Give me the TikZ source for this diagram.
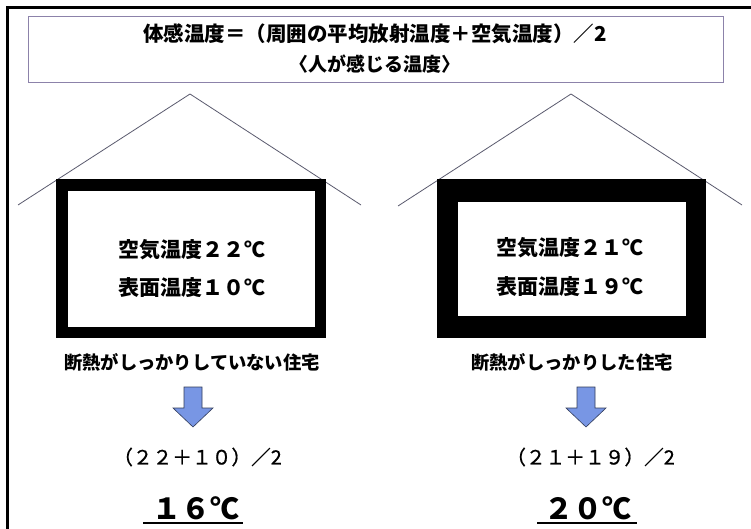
\documentclass[tikz,border=0pt]{standalone}
\usepackage{fontspec}
\newfontfamily\jp{Noto Sans CJK JP}
\newfontfamily\jpfb[FakeBold=0.8]{Noto Sans CJK JP}
\definecolor{framegray}{RGB}{140,130,170}
\definecolor{roofgray}{RGB}{90,90,110}
\definecolor{arrowblue}{RGB}{120,150,228}
\definecolor{arrowedge}{RGB}{50,60,90}
\tikzset{
  txt/.style={inner sep=0pt, font=\jp},
  wall/.style={fill=black, inner sep=0pt},
  room/.style={fill=white, inner sep=0pt},
  roof/.style={draw=roofgray, line width=0.8pt},
  blockarrow/.style={fill=arrowblue, draw=arrowedge, line width=0.6pt, line join=miter},
  uline/.style={line width=1.7pt}
}
\begin{document}
\begin{tikzpicture}[x=1pt,y=-1pt]
\useasboundingbox (0,0) rectangle (751,529);
\fill[white] (0,0) rectangle (751,529);
% outer frame (left and top only)
\draw[line width=3pt] (7.5,529) -- (7.5,7.5) -- (751,7.5);
% title box
\node (title) [draw=framegray, line width=0.9pt, minimum width=695, minimum height=66, inner sep=0pt] at (375.5,49) {};
\node (t1) [txt, font=\jp\bfseries\fontsize{20.5}{24}\selectfont] at (375,34) {体感温度＝（周囲の平均放射温度＋空気温度）／2};
\node (t2) [txt, font=\jp\bfseries\fontsize{19}{22}\selectfont] at (375,64.5) {〈人が感じる温度〉};
% left house
\coordinate (lr1) at (18,205);
\coordinate (lapex) at (190,94);
\coordinate (lr2) at (361,205);
\draw[roof] (lr1) -- (lapex) -- (lr2);
\node (lwall) [wall, minimum width=270, minimum height=159] at (191,258.5) {};
\node (lroom) [room, minimum width=247, minimum height=136] at (191.5,259) {};
\node (la) [txt, font=\jp\bfseries\fontsize{21}{24}\selectfont] at (192,250) {空気温度２２℃};
\node (ls) [txt, font=\jp\bfseries\fontsize{21}{24}\selectfont] at (192,288) {表面温度１０℃};
\node (lcap) [txt, font=\jp\bfseries\fontsize{18.3}{22}\selectfont] at (192,362) {断熱がしっかりしていない住宅};
\draw[blockarrow] (184,387) -- (202,387) -- (202,408) -- (213,408) -- (193,427) -- (173,408) -- (184,408) -- cycle;
\node (lf) [txt, font=\jpfb\fontsize{19.7}{22}\selectfont] at (197.5,457) {（２２＋１０）／2};
\node (lt) [txt, font=\jp\bfseries\fontsize{29}{32}\selectfont] at (196,508) {１６℃};
\coordinate (lu1) at (143,523);
\coordinate (lu2) at (243,523);
\draw[uline] (lu1) -- (lu2);
% right house
\coordinate (rr1) at (398,206);
\coordinate (rapex) at (571,94);
\coordinate (rr2) at (742,205);
\draw[roof] (rr1) -- (rapex) -- (rr2);
\node (rwall) [wall, minimum width=269, minimum height=159] at (571.5,258.5) {};
\node (rroom) [room, minimum width=228, minimum height=114] at (572,259) {};
\node (ra) [txt, font=\jp\bfseries\fontsize{21}{24}\selectfont] at (570,248) {空気温度２１℃};
\node (rs) [txt, font=\jp\bfseries\fontsize{21}{24}\selectfont] at (570,287) {表面温度１９℃};
\node (rcap) [txt, font=\jp\bfseries\fontsize{18.3}{22}\selectfont] at (572,362) {断熱がしっかりした住宅};
\draw[blockarrow] (577,387) -- (595,387) -- (595,408) -- (606,408) -- (586,427) -- (566,408) -- (577,408) -- cycle;
\node (rf) [txt, font=\jpfb\fontsize{19.7}{22}\selectfont] at (590.5,457) {（２１＋１９）／2};
\node (rt) [txt, font=\jp\bfseries\fontsize{29}{32}\selectfont] at (588,508) {２０℃};
\coordinate (ru1) at (537,523);
\coordinate (ru2) at (637,523);
\draw[uline] (ru1) -- (ru2);
\end{tikzpicture}
\end{document}
